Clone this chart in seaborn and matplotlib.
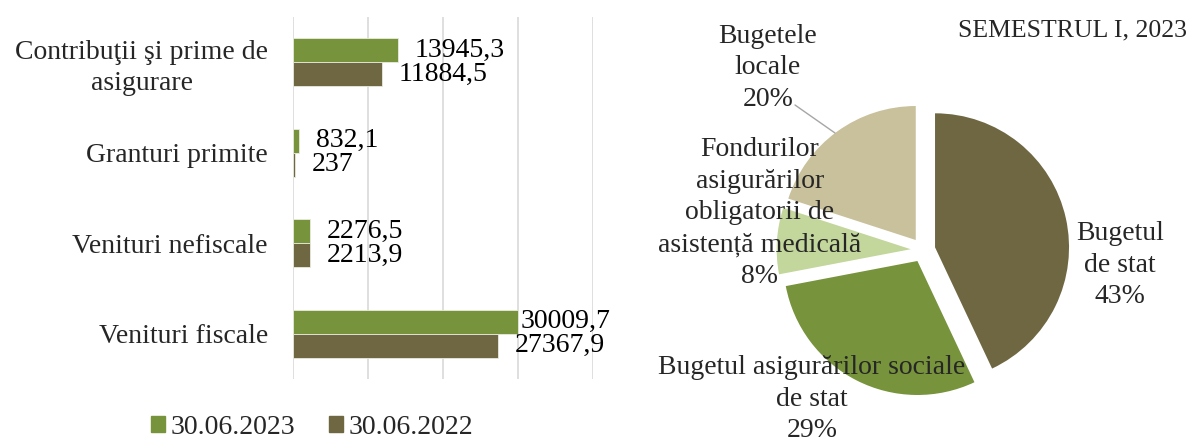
import matplotlib
matplotlib.use("Agg")
import matplotlib.pyplot as plt
from matplotlib.patches import Patch
import pandas as pd
import seaborn as sns

# bar chart data
categories = ["Contribuţii şi prime de\nasigurare", "Granturi primite",
              "Venituri nefiscale", "Venituri fiscale"]
periods = ["30.06.2023", "30.06.2022"]
values_2023 = [13945.3, 832.1, 2276.5, 30009.7]
values_2022 = [11884.5, 237, 2213.9, 27367.9]

# pie chart data
pie_title = "SEMESTRUL I, 2023"
pie_labels = ["Bugetul\nde stat", "Bugetul asigurărilor sociale\nde stat",
              "Fondurilor\nasigurărilor\nobligatorii de\nasistență medicală",
              "Bugetele\nlocale"]
pie_shares = [43, 29, 8, 20]

bar_colors = ["#77933C", "#6E6742"]
pie_colors = ["#6E6742", "#77933C", "#C3D69B", "#C8C19C"]

sns.set_theme(style="white")
plt.rcParams["font.family"] = ["Liberation Serif", "DejaVu Serif"]
FS = 20

df = pd.DataFrame({
    "category": categories * 2,
    "period": [periods[0]] * 4 + [periods[1]] * 4,
    "value": values_2023 + values_2022,
})

W, H = 1192, 441
fig = plt.figure(figsize=(W / 100, H / 100), dpi=100)

# ---- left: grouped horizontal bars
ax = fig.add_axes([293 / W, (H - 379) / H, 300 / W, 362 / H])
sns.barplot(data=df, y="category", x="value", hue="period", hue_order=periods,
            order=categories, orient="h", palette=bar_colors, saturation=1,
            width=0.53, ax=ax, legend=False, edgecolor="#E8ECDD", linewidth=0.6)
ax.set_xlim(0, 40000)
ax.set_ylim(3.5, -0.5)
ax.set_xticks([0, 10000, 20000, 30000, 40000])
ax.set_xticklabels([])
ax.grid(axis="x", color="#D9D9D9", lw=1.2)
ax.set_axisbelow(True)
for s in ax.spines.values():
    s.set_visible(False)
ax.set_xlabel("")
ax.set_ylabel("")
ax.tick_params(axis="both", length=0)
ax.tick_params(axis="y", labelsize=FS, pad=18)
for t in ax.get_yticklabels():
    t.set_multialignment("center")
    t.set_linespacing(1.3)

for cont in ax.containers:
    for p in cont:
        v = p.get_width()
        txt = ("%g" % v).replace(".", ",")
        off = 2 if v > 30000 else 12
        ax.annotate(txt, (v, p.get_y() + p.get_height() / 2), xytext=(off, 0),
                    textcoords="offset points", ha="left", va="center",
                    fontsize=FS, color="black")

handles = [Patch(color=c, label=l) for c, l in zip(bar_colors, periods)]
fig.legend(handles=handles, loc="center", bbox_to_anchor=(312 / W, 1 - 427 / H),
           ncol=2, frameon=False, fontsize=FS, handlelength=0.5, handleheight=0.5,
           handletextpad=0.2, columnspacing=1.2)

# ---- right: exploded pie
R = 134
cx, cy = 923, 250
pax = fig.add_axes([620 / W, 0, (W - 620) / W, 1])
pax.pie(pie_shares, colors=pie_colors, startangle=90, counterclock=False,
        explode=[0.092] * len(pie_shares), radius=1,
        wedgeprops=dict(linewidth=0))
pax.set_aspect("auto")
pax.set_xlim(-(cx - 620) / R, (W - cx) / R)
pax.set_ylim(-(H - cy) / R, cy / R)
pax.axis("off")

label_pos = [(1120, 265), (812, 399), (760, 213), (768, 68)]
for lab, share, (px, py) in zip(pie_labels, pie_shares, label_pos):
    pax.text((px - cx) / R, (cy - py) / R, f"{lab}\n{share}%", ha="center",
             va="center", fontsize=FS, linespacing=1.36, multialignment="center")
# leader line for "Bugetele locale"
pax.plot([(795 - cx) / R, (835 - cx) / R], [(cy - 105) / R, (cy - 133) / R],
         color="#A6A6A6", lw=1)

fig.text(1187 / W, 1 - 30 / H, pie_title, ha="right", va="center", fontsize=18.5)

fig.savefig("out.png", dpi=100)
